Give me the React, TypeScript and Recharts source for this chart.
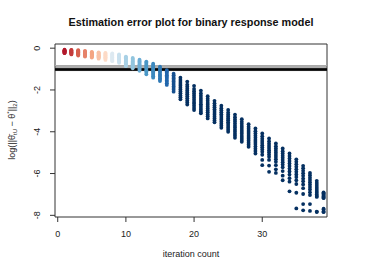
import React from 'react';
import { ScatterChart, Scatter, XAxis, YAxis, ReferenceLine, ReferenceArea } from 'recharts';

// iteration numbers on the x axis
const iterations = Array.from({ length: 39 }, (_, i) => i + 1);

// log estimation error of each replicate, one row per iteration
const errors: number[][] = [
  [-0.07, -0.09, -0.11, -0.12, -0.13, -0.14, -0.15, -0.17, -0.18, -0.2, -0.22, -0.24],
  [-0.08, -0.1, -0.12, -0.14, -0.16, -0.17, -0.19, -0.21, -0.23, -0.25, -0.27, -0.3],
  [-0.1, -0.12, -0.15, -0.17, -0.19, -0.21, -0.23, -0.25, -0.27, -0.29, -0.32, -0.35],
  [-0.13, -0.16, -0.18, -0.21, -0.23, -0.25, -0.28, -0.3, -0.32, -0.34, -0.37, -0.4],
  [-0.18, -0.2, -0.23, -0.25, -0.28, -0.3, -0.32, -0.35, -0.37, -0.39, -0.42, -0.45],
  [-0.2, -0.23, -0.26, -0.28, -0.31, -0.34, -0.36, -0.39, -0.41, -0.44, -0.47, -0.5],
  [-0.22, -0.25, -0.28, -0.31, -0.34, -0.37, -0.4, -0.43, -0.46, -0.49, -0.52, -0.56],
  [-0.25, -0.28, -0.32, -0.35, -0.38, -0.41, -0.44, -0.47, -0.51, -0.54, -0.58, -0.62],
  [-0.3, -0.33, -0.37, -0.4, -0.44, -0.47, -0.51, -0.54, -0.58, -0.61, -0.65, -0.7],
  [-0.4, -0.44, -0.48, -0.52, -0.56, -0.6, -0.64, -0.68, -0.72, -0.76, -0.81, -0.86],
  [-0.47, -0.51, -0.55, -0.6, -0.64, -0.68, -0.73, -0.77, -0.82, -0.86, -0.91, -0.96],
  [-0.55, -0.6, -0.64, -0.69, -0.74, -0.78, -0.83, -0.88, -0.93, -0.97, -1.02, -1.08],
  [-0.64, -0.69, -0.74, -0.8, -0.85, -0.9, -0.95, -1.0, -1.06, -1.11, -1.18, -1.25],
  [-0.74, -0.8, -0.86, -0.92, -0.98, -1.04, -1.1, -1.16, -1.22, -1.28, -1.34, -1.41],
  [-0.88, -0.94, -1.0, -1.06, -1.12, -1.18, -1.25, -1.31, -1.37, -1.44, -1.5, -1.57],
  [-1.05, -1.11, -1.17, -1.23, -1.29, -1.36, -1.42, -1.48, -1.55, -1.61, -1.68, -1.76],
  [-1.22, -1.3, -1.38, -1.45, -1.52, -1.6, -1.67, -1.75, -1.83, -1.91, -1.99, -2.08],
  [-1.41, -1.52, -1.62, -1.71, -1.8, -1.89, -1.98, -2.07, -2.16, -2.26, -2.35, -2.45],
  [-1.6, -1.74, -1.84, -1.94, -2.03, -2.12, -2.21, -2.3, -2.4, -2.5, -2.6, -2.7],
  [-1.8, -1.95, -2.06, -2.17, -2.27, -2.37, -2.47, -2.57, -2.66, -2.76, -2.86, -2.96],
  [-2.03, -2.17, -2.28, -2.38, -2.48, -2.58, -2.68, -2.77, -2.86, -2.95, -3.04, -3.12],
  [-2.3, -2.42, -2.52, -2.62, -2.71, -2.8, -2.89, -2.98, -3.07, -3.17, -3.26, -3.36],
  [-2.52, -2.64, -2.74, -2.83, -2.92, -3.01, -3.1, -3.19, -3.28, -3.37, -3.46, -3.55],
  [-2.75, -2.87, -2.97, -3.07, -3.16, -3.25, -3.34, -3.43, -3.52, -3.62, -3.71, -3.81],
  [-2.96, -3.08, -3.18, -3.27, -3.36, -3.45, -3.54, -3.63, -3.72, -3.81, -3.9, -4.0],
  [-3.18, -3.3, -3.41, -3.51, -3.61, -3.71, -3.8, -3.9, -4.0, -4.1, -4.19, -4.29],
  [-3.4, -3.52, -3.62, -3.72, -3.82, -3.92, -4.01, -4.1, -4.2, -4.3, -4.39, -4.48],
  [-3.64, -3.76, -3.86, -3.96, -4.06, -4.16, -4.25, -4.34, -4.43, -4.53, -4.62, -4.72],
  [-3.84, -3.97, -4.08, -4.19, -4.29, -4.39, -4.49, -4.59, -4.7, -4.81, -4.92, -5.04],
  [-4.08, -4.22, -4.33, -4.44, -4.54, -4.64, -4.74, -4.85, -4.96, -5.1, -5.35, -5.6],
  [-4.32, -4.46, -4.57, -4.68, -4.78, -4.88, -4.98, -5.09, -5.2, -5.35, -5.62, -5.92],
  [-4.56, -4.69, -4.8, -4.91, -5.01, -5.11, -5.21, -5.32, -5.44, -5.6, -5.8, -5.97],
  [-4.8, -4.93, -5.04, -5.15, -5.25, -5.35, -5.46, -5.57, -5.7, -5.88, -6.1, -6.32],
  [-5.04, -5.16, -5.28, -5.4, -5.52, -5.64, -5.76, -5.9, -6.05, -6.22, -6.39, -6.85],
  [-5.32, -5.44, -5.56, -5.68, -5.8, -5.92, -6.04, -6.17, -6.32, -6.5, -6.92, -7.67],
  [-5.63, -5.75, -5.87, -5.99, -6.11, -6.24, -6.37, -6.52, -6.7, -6.98, -7.46, -7.76],
  [-5.97, -6.08, -6.2, -6.31, -6.42, -6.53, -6.64, -6.76, -6.9, -7.03, -7.46, -7.79],
  [-6.35, -6.45, -6.55, -6.65, -6.74, -6.83, -6.92, -7.0, -7.08, -7.12, -7.82, -7.84],
  [-6.9, -6.94, -6.98, -7.02, -7.06, -7.1, -7.14, -7.18, -7.68, -7.72, -7.8, -7.85],
];

// horizontal reference levels (grey lines and black band)
const refLevels = [-0.83, -0.9, -0.97, -1.02, -1.07];
const refColors = ['#a8a8a8', '#666666', '#111111', '#000000', '#1a1a1a'];

const xTicks = [0, 10, 20, 30];
const yTicks = [0, -2, -4, -6, -8];

// red -> blue palette by iteration
const iterColors = [
  '#b2182b', '#c43b3b', '#d6604d', '#e6836a', '#f4a582', '#f8c2a6', '#fddbc7', '#dde9f1',
  '#c8e0ee', '#a8d0e5', '#92c5de', '#6badd5', '#4a97c6', '#3c89bf', '#2f79b5', '#2166ac',
  '#16508f',
  ...Array(22).fill('#053061'),
];

const points = iterations.flatMap((it, i) => errors[i].map((e) => ({ it, e })));

const font = '"Liberation Sans", Arial, Helvetica, sans-serif';

const YTick = ({ y, payload }: any) => (
  <text x={40} y={y} transform={`rotate(-90, 40, ${y})`} textAnchor="middle" fontSize={9} fontFamily={font} fill="#222">
    {payload.value}
  </text>
);

const XTick = ({ x, payload }: any) => (
  <text x={x} y={237} textAnchor="middle" fontSize={9} fontFamily={font} fill="#222">
    {payload.value}
  </text>
);

const Dot = (props: any) => (
  <circle cx={props.cx} cy={props.cy} r={1.9} fill={iterColors[props.payload.it - 1]} />
);

export default function App() {
  return (
    <div style={{ position: 'absolute', left: 0, top: 0, width: 382, height: 273, background: '#fff', fontFamily: font }}>
      <div style={{ position: 'absolute', left: 0, width: 382, top: 16, textAlign: 'center', fontSize: 10.8, fontWeight: 'bold', color: '#111' }}>
        Estimation error plot for binary response model
      </div>
      <ScatterChart width={382} height={273} margin={{ top: 44, right: 55, bottom: 26, left: 0 }}>
        <XAxis
          type="number"
          dataKey="it"
          domain={[-0.4, 39.5]}
          ticks={xTicks}
          allowDataOverflow
          axisLine={false}
          tickSize={5}
          tickLine={{ stroke: '#333' }}
          tick={<XTick />}
          height={30}
        />
        <YAxis
          type="number"
          dataKey="e"
          domain={[-8.08, 0.2]}
          ticks={yTicks}
          allowDataOverflow
          axisLine={false}
          tickSize={5}
          tickLine={{ stroke: '#333' }}
          tick={<YTick />}
          width={55}
        />
        <ReferenceArea x1={-0.4} x2={39.5} y1={-8.08} y2={0.2} fill="none" stroke="#333" strokeWidth={1} />
        {refLevels.map((lv, i) => (
          <ReferenceLine key={i} y={lv} stroke={refColors[i]} strokeWidth={1} />
        ))}
        <Scatter data={points} shape={<Dot />} isAnimationActive={false} />
      </ScatterChart>
      <div style={{ position: 'absolute', left: 0, width: 382, top: 249, textAlign: 'center', fontSize: 9, color: '#222' }}>
        iteration count
      </div>
      <div
        style={{
          position: 'absolute',
          left: 12,
          top: 130,
          transform: 'translate(-50%, -50%) rotate(-90deg)',
          whiteSpace: 'nowrap',
          fontSize: 9,
          color: '#222',
        }}
      >
        log(||θ̄<sub style={{ fontSize: 6 }}>tU</sub> − θ<sup style={{ fontSize: 6 }}>*</sup>||<sub style={{ fontSize: 6 }}>2</sub>)
      </div>
    </div>
  );
}
